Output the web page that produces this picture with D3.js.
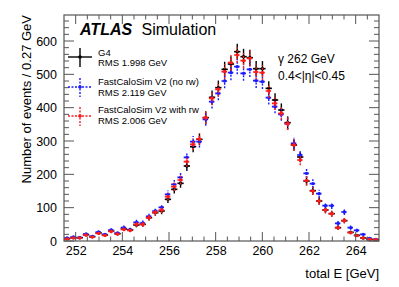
<!DOCTYPE html>
<html>
<head>
<meta charset="utf-8">
<script src="https://cdn.jsdelivr.net/npm/d3@7"></script>
<style>
  body { margin: 0; background: #fff; }
  svg { display: block; font-family: "Liberation Sans", Arial, Helvetica, sans-serif; }
</style>
</head>
<body>
<svg id="chart" width="399" height="287"></svg>
<script>
/* photon energy response: G4 vs FastCaloSim V2, 50 bins of 0.27 GeV */
"use strict";

const BIN_LO = 251.5;
const BIN_W = 0.27;

const G4 = [7, 10, 10, 19, 13, 24, 18, 30, 22, 36, 33, 48, 50, 70, 85, 90, 125, 155, 173, 225,
  283, 305, 370, 431, 460, 515, 531, 568, 553, 550, 517, 517, 458, 423, 393, 355, 288, 252, 180, 151,
  120, 93, 82, 40, 61, 26, 17, 9, 5, 4];
const FCS_NORW = [9, 12, 10, 21, 14, 27, 20, 33, 24, 40, 34, 56, 54, 74, 90, 101, 140, 170, 191, 251,
  298, 298, 365, 418, 443, 480, 505, 523, 503, 515, 481, 478, 430, 403, 380, 352, 293, 258, 203, 172,
  142, 106, 106, 53, 87, 40, 32, 20, 8, 5];
const FCS_RW = [6, 9, 9, 18, 12, 23, 17, 29, 21, 35, 32, 50, 50, 70, 86, 93, 133, 163, 183, 238,
  290, 306, 370, 428, 455, 508, 535, 558, 541, 548, 507, 505, 450, 413, 383, 352, 288, 243, 181, 150,
  120, 93, 82, 40, 61, 25, 16, 9, 5, 4];

const LEGEND_NAMES = ["G4", "FastCaloSim V2 (no rw)", "FastCaloSim V2 with rw"];
const LEGEND_RMS = ["RMS 1.998 GeV", "RMS 2.119 GeV", "RMS 2.006 GeV"];
const X_TICKS = [252, 254, 256, 258, 260, 262, 264];
const Y_TICKS = [0, 100, 200, 300, 400, 500, 600];

/* styles, in legend order; drawing order is black, blue, red */
const STYLE = [
  { color: "#000000", dash: null },
  { color: "#1a1aff", dash: "2,1.5" },
  { color: "#ff1a1a", dash: "2,1.5" },
];
const SERIES = [G4, FCS_NORW, FCS_RW];

const svg = d3.select("#chart");
const W = 399, H = 287;
const frame = { left: 64, right: 379, top: 15, bottom: 241 };

const x = d3.scaleLinear([BIN_LO, BIN_LO + 50 * BIN_W], [frame.left, frame.right]);
const y = d3.scaleLinear([0, 678], [frame.bottom, frame.top]);
const AXIS = "#555";

/* -- data --------------------------------------------------------------- */

const plot = svg.append("g");
SERIES.forEach((vals, s) => {
  const st = STYLE[s];
  const g = plot.append("g");
  const pts = vals.map((v, i) => ({ c: BIN_LO + (i + 0.5) * BIN_W, v, e: Math.sqrt(v) }));
  g.selectAll("line.h")
    .data(pts)
    .join("line")
    .attr("x1", (d) => x(d.c - BIN_W / 2))
    .attr("x2", (d) => x(d.c + BIN_W / 2))
    .attr("y1", (d) => y(d.v))
    .attr("y2", (d) => y(d.v))
    .attr("stroke", st.color)
    .attr("stroke-width", 1.6)
    .attr("stroke-dasharray", st.dash);
  g.selectAll("line.v")
    .data(pts)
    .join("line")
    .attr("x1", (d) => x(d.c))
    .attr("x2", (d) => x(d.c))
    .attr("y1", (d) => y(Math.max(0, d.v - d.e)))
    .attr("y2", (d) => y(d.v + d.e))
    .attr("stroke", st.color)
    .attr("stroke-width", 1.4)
    .attr("stroke-dasharray", st.dash);
  g.selectAll("circle")
    .data(pts)
    .join("circle")
    .attr("cx", (d) => x(d.c))
    .attr("cy", (d) => y(d.v))
    .attr("r", 1.7)
    .attr("fill", st.color);
});

/* -- frame and ticks (ROOT style, ticks inside, all four sides) ---------- */

svg.append("rect")
  .attr("x", frame.left).attr("y", frame.top)
  .attr("width", frame.right - frame.left).attr("height", frame.bottom - frame.top)
  .attr("fill", "none").attr("stroke", AXIS).attr("stroke-width", 1.2);

const xMinor = d3.range(252, 265, 0.5).filter((t) => t % 2 !== 0);
const yMinor = d3.range(20, 678, 20).filter((t) => t % 100 !== 0);
const ticks = svg.append("g").attr("stroke", AXIS).attr("stroke-width", 1);
for (const [t, len] of [...X_TICKS.map((t) => [t, 9]), ...xMinor.map((t) => [t, 4.5])]) {
  ticks.append("line").attr("x1", x(t)).attr("x2", x(t)).attr("y1", frame.bottom).attr("y2", frame.bottom - len);
  ticks.append("line").attr("x1", x(t)).attr("x2", x(t)).attr("y1", frame.top).attr("y2", frame.top + len);
}
for (const [t, len] of [...Y_TICKS.map((t) => [t, 10]), ...yMinor.map((t) => [t, 5])]) {
  ticks.append("line").attr("y1", y(t)).attr("y2", y(t)).attr("x1", frame.left).attr("x2", frame.left + len);
  ticks.append("line").attr("y1", y(t)).attr("y2", y(t)).attr("x1", frame.right).attr("x2", frame.right - len);
}

const xAxis = svg.append("g")
  .attr("transform", `translate(0,${frame.bottom})`)
  .call(d3.axisBottom(x).tickValues(X_TICKS).tickSize(0).tickPadding(5));
const yAxis = svg.append("g")
  .attr("transform", `translate(${frame.left},0)`)
  .call(d3.axisLeft(y).tickValues(Y_TICKS).tickSize(0).tickPadding(7));
for (const ax of [xAxis, yAxis]) {
  ax.select(".domain").remove();
  ax.selectAll("text").attr("font-size", 12.5).attr("fill", "#000").attr("font-family", null);
  ax.attr("font-family", null);
}

svg.append("text")
  .attr("x", frame.right).attr("y", 277.5)
  .attr("text-anchor", "end").attr("font-size", 13)
  .text("total E [GeV]");
svg.append("text")
  .attr("transform", `translate(30.5,${frame.top}) rotate(-90)`)
  .attr("text-anchor", "end").attr("font-size", 13)
  .text("Number of events / 0.27 GeV");

/* -- labels and legend --------------------------------------------------- */

svg.append("text")
  .attr("x", 80).attr("y", 35)
  .attr("font-size", 16).attr("font-weight", "bold").attr("font-style", "italic")
  .text("ATLAS");
svg.append("text")
  .attr("x", 141.5).attr("y", 35).attr("font-size", 16)
  .text("Simulation");

svg.append("text").attr("x", 278).attr("y", 63).attr("font-size", 12).text("γ 262 GeV");
svg.append("text").attr("x", 278).attr("y", 80).attr("font-size", 12).text("0.4<|η|<0.45");

const legendY = [57, 87, 116];
const legendText = [[55.5, 65.5], [84.5, 96], [112.5, 124]];
LEGEND_NAMES.forEach((name, s) => {
  const st = STYLE[s];
  const cy = legendY[s];
  const g = svg.append("g");
  g.append("line").attr("x1", 68).attr("x2", 92).attr("y1", cy).attr("y2", cy)
    .attr("stroke", st.color).attr("stroke-width", 1.4).attr("stroke-dasharray", st.dash);
  g.append("line").attr("x1", 80).attr("x2", 80).attr("y1", cy - 9).attr("y2", cy + 10)
    .attr("stroke", st.color).attr("stroke-width", 1.4).attr("stroke-dasharray", st.dash);
  g.append("circle").attr("cx", 80).attr("cy", cy).attr("r", 1.8).attr("fill", st.color);
  g.append("text").attr("x", 98).attr("y", legendText[s][0]).attr("font-size", 9.5).text(name);
  g.append("text").attr("x", 98).attr("y", legendText[s][1]).attr("font-size", 9.5).text(LEGEND_RMS[s]);
});
</script>
</body>
</html>
